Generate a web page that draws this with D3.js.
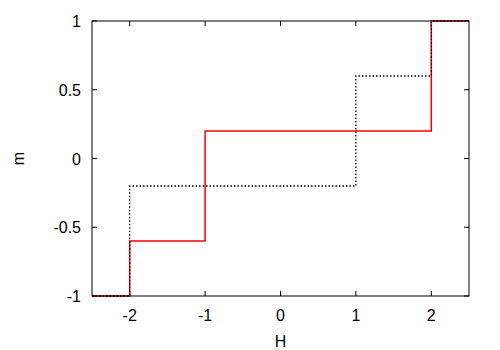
<!DOCTYPE html>
<html>
<head>
<meta charset="utf-8">
<script src="https://cdn.jsdelivr.net/npm/d3@7"></script>
<style>
  html, body { margin: 0; padding: 0; background: #fff; }
  svg text { font-family: "Liberation Sans", Arial, sans-serif; font-size: 16px; fill: #000; }
</style>
</head>
<body>
<div id="chart"></div>
<script>
// step series: value of m for each H interval edge
const redH = [-2.5, -2, -2, -1, -1, 2, 2, 2.5];
const redM = [-1, -1, -0.6, -0.6, 0.2, 0.2, 1, 1];
const blackH = [-2.5, -2, -2, 1, 1, 2, 2, 2.5];
const blackM = [-1, -1, -0.2, -0.2, 0.6, 0.6, 1, 1];
const xTicks = [-2, -1, 0, 1, 2];
const yTicks = [-1, -0.5, 0, 0.5, 1];

const W = 500, H = 350;
const margin = { left: 92, right: 31, top: 21, bottom: 54 };

const svg = d3.select('#chart').append('svg')
  .attr('width', W).attr('height', H);

const x = d3.scaleLinear().domain([-2.5, 2.5]).range([margin.left, W - margin.right]);
const y = d3.scaleLinear().domain([-1, 1]).range([H - margin.bottom, margin.top]);

const g = svg.append('g');

// mirrored inward ticks
const tickLen = 5;
xTicks.forEach(t => {
  g.append('line').attr('x1', x(t)).attr('x2', x(t))
    .attr('y1', y(-1)).attr('y2', y(-1) - tickLen)
    .attr('stroke', '#000').attr('stroke-width', 1);
  g.append('line').attr('x1', x(t)).attr('x2', x(t))
    .attr('y1', y(1)).attr('y2', y(1) + tickLen)
    .attr('stroke', '#000').attr('stroke-width', 1);
  g.append('text').attr('x', x(t)).attr('y', y(-1) + 25)
    .attr('text-anchor', 'middle').text(t);
});
yTicks.forEach(t => {
  g.append('line').attr('x1', x(-2.5)).attr('x2', x(-2.5) + tickLen)
    .attr('y1', y(t)).attr('y2', y(t))
    .attr('stroke', '#000').attr('stroke-width', 1);
  g.append('line').attr('x1', x(2.5)).attr('x2', x(2.5) - tickLen)
    .attr('y1', y(t)).attr('y2', y(t))
    .attr('stroke', '#000').attr('stroke-width', 1);
  g.append('text').attr('x', x(-2.5) - 11).attr('y', y(t) + 6)
    .attr('text-anchor', 'end').text(t);
});

const line = d3.line().x(d => x(d[0])).y(d => y(d[1]));

g.append('path')
  .attr('d', line(redH.map((h, i) => [h, redM[i]])))
  .attr('fill', 'none').attr('stroke', '#ff0000').attr('stroke-width', 1.5);

g.append('path')
  .attr('d', line(blackH.map((h, i) => [h, blackM[i]])))
  .attr('fill', 'none').attr('stroke', '#000').attr('stroke-width', 1.3)
  .attr('stroke-dasharray', '1.5 2');

// frame
g.append('rect')
  .attr('x', x(-2.5)).attr('y', y(1))
  .attr('width', x(2.5) - x(-2.5)).attr('height', y(-1) - y(1))
  .attr('fill', 'none').attr('stroke', '#000').attr('stroke-width', 1);

svg.append('text').attr('x', x(0)).attr('y', 347)
  .attr('text-anchor', 'middle').text('H');
svg.append('text')
  .attr('transform', `translate(24,${y(0)}) rotate(-90)`)
  .attr('text-anchor', 'middle').text('m');
</script>
</body>
</html>
